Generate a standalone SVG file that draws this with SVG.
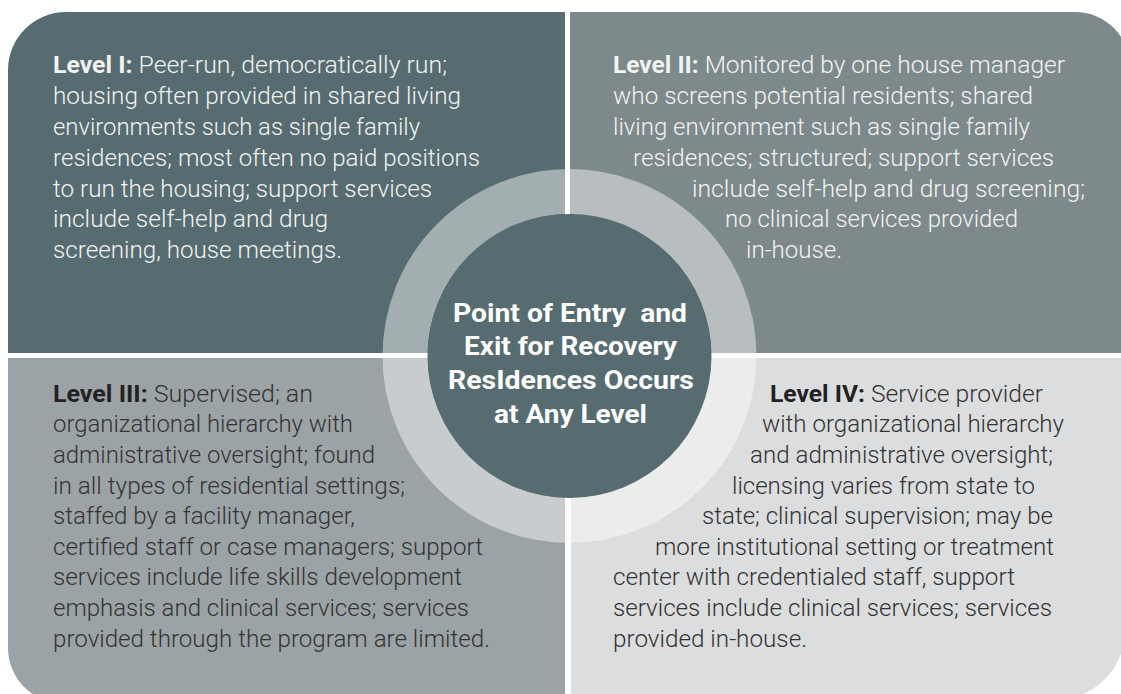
<svg xmlns="http://www.w3.org/2000/svg" width="1121" height="694" viewBox="0 0 1121 694">
<style>
.body{font-family:Roboto,"Liberation Sans",Arial,sans-serif;font-size:24px;font-weight:300}
.lbl{font-weight:700}
.light{fill:#f2f3f3}
.dark{fill:#333}
.dark .lbl{fill:#222}
.ctr{font-family:Roboto,"Liberation Sans",Arial,sans-serif;font-size:25px;font-weight:700;fill:#ffffff}
</style>
<rect width="1121" height="694" fill="#ffffff"/>
<g id="level1">
<path d="M8,353 V70 A58,58 0 0 1 66,12 H565 V353 Z" fill="#566c70"/>
<g class="body light" lengthAdjust="spacingAndGlyphs">
<text x="53" y="73" textLength="394" lengthAdjust="spacingAndGlyphs"><tspan class="lbl">Level I:</tspan> Peer-run, democratically run;</text>
<text x="53" y="104" textLength="408" lengthAdjust="spacingAndGlyphs">housing often provided in shared living</text>
<text x="53" y="135" textLength="367" lengthAdjust="spacingAndGlyphs">environments such as single family</text>
<text x="53" y="166" textLength="427" lengthAdjust="spacingAndGlyphs">residences; most often no paid positions</text>
<text x="53" y="196.5" textLength="379" lengthAdjust="spacingAndGlyphs">to run the housing; support services</text>
<text x="53" y="227" textLength="275" lengthAdjust="spacingAndGlyphs">include self-help and drug</text>
<text x="53" y="258" textLength="289" lengthAdjust="spacingAndGlyphs">screening, house meetings.</text>
</g>
</g>
<g id="level2">
<path d="M570,12 H1075 A55,55 0 0 1 1130,67 V353 H570 Z" fill="#7e898c"/>
<g class="body light">
<text x="613" y="73" textLength="452" lengthAdjust="spacingAndGlyphs"><tspan class="lbl">Level II:</tspan> Monitored by one house manager</text>
<text x="613" y="104" textLength="420" lengthAdjust="spacingAndGlyphs">who screens potential residents; shared</text>
<text x="613" y="135" textLength="417" lengthAdjust="spacingAndGlyphs">living environment such as single family</text>
<text x="633" y="166" textLength="421" lengthAdjust="spacingAndGlyphs">residences; structured; support services</text>
<text x="692" y="196.5" textLength="393" lengthAdjust="spacingAndGlyphs">include self-help and drug screening;</text>
<text x="725" y="227" textLength="293" lengthAdjust="spacingAndGlyphs">no clinical services provided</text>
<text x="746" y="258" textLength="96" lengthAdjust="spacingAndGlyphs">in-house.</text>
</g>
</g>
<g id="level3">
<path d="M8,358 H565 V703 H63 A55,55 0 0 1 8,648 Z" fill="#9ca3a6"/>
<g class="body dark">
<text x="53" y="401.7" textLength="260" lengthAdjust="spacingAndGlyphs"><tspan class="lbl">Level III:</tspan> Supervised; an</text>
<text x="53" y="432.3" textLength="300" lengthAdjust="spacingAndGlyphs">organizational hierarchy with</text>
<text x="53" y="462.9" textLength="322" lengthAdjust="spacingAndGlyphs">administrative oversight; found</text>
<text x="53" y="493.5" textLength="352" lengthAdjust="spacingAndGlyphs">in all types of residential settings;</text>
<text x="53" y="524.1" textLength="302" lengthAdjust="spacingAndGlyphs">staffed by a facility manager,</text>
<text x="53" y="554.7" textLength="430" lengthAdjust="spacingAndGlyphs">certified staff or case managers; support</text>
<text x="53" y="585.3" textLength="409" lengthAdjust="spacingAndGlyphs">services include life skills development</text>
<text x="53" y="615.9" textLength="416" lengthAdjust="spacingAndGlyphs">emphasis and clinical services; services</text>
<text x="53" y="646.5" textLength="437" lengthAdjust="spacingAndGlyphs">provided through the program are limited.</text>
</g>
</g>
<g id="level4">
<path d="M571,358 H1125 V630 A70,70 0 0 1 1055,700 H571 Z" fill="#dcddde"/>
<g class="body dark">
<text x="770" y="401.7" textLength="273" lengthAdjust="spacingAndGlyphs"><tspan class="lbl">Level IV:</tspan> Service provider</text>
<text x="762" y="432.3" textLength="302" lengthAdjust="spacingAndGlyphs">with organizational hierarchy</text>
<text x="750" y="462.9" textLength="303" lengthAdjust="spacingAndGlyphs">and administrative oversight;</text>
<text x="732" y="493.5" textLength="303" lengthAdjust="spacingAndGlyphs">licensing varies from state to</text>
<text x="702" y="524.1" textLength="351" lengthAdjust="spacingAndGlyphs">state; clinical supervision; may be</text>
<text x="655" y="554.7" textLength="399" lengthAdjust="spacingAndGlyphs">more institutional setting or treatment</text>
<text x="613" y="585.3" textLength="402" lengthAdjust="spacingAndGlyphs">center with credentialed staff, support</text>
<text x="613" y="615.9" textLength="439" lengthAdjust="spacingAndGlyphs">services include clinical services; services</text>
<text x="613" y="646.5" textLength="194" lengthAdjust="spacingAndGlyphs">provided in-house.</text>
</g>
</g>
<g id="connectors"></g>
<g id="center">
<circle cx="569.5" cy="356" r="164.5" fill="none" stroke="#ffffff" stroke-opacity="0.45" stroke-width="45"/>
<circle cx="569.5" cy="356" r="142" fill="#566c70"/>
<g class="ctr">
<text x="453" y="321.7" textLength="234" lengthAdjust="spacingAndGlyphs" xml:space="preserve">Point of Entry  and</text>
<text x="464" y="355.3" textLength="213" lengthAdjust="spacingAndGlyphs">Exit for Recovery</text>
<text x="448" y="388.9" textLength="246" lengthAdjust="spacingAndGlyphs">ResIdences Occurs</text>
<text x="494" y="422.5" textLength="153" lengthAdjust="spacingAndGlyphs">at Any Level</text>
</g>
</g>
</svg>
